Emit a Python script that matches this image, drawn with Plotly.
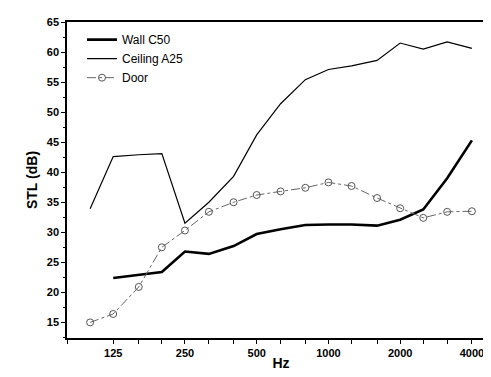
import plotly.graph_objects as go

freqs = [100, 125, 160, 200, 250, 315, 400, 500, 630, 800, 1000, 1250, 1600, 2000, 2500, 3150, 4000]
wall_freqs = freqs[1:]
wall = [22.4, 22.9, 23.4, 26.8, 26.4, 27.7, 29.7, 30.5, 31.2, 31.3, 31.3, 31.1, 32.1, 33.8, 39.0, 45.3]
ceiling = [33.9, 42.6, 42.9, 43.1, 31.5, 35.0, 39.3, 46.2, 51.4, 55.4, 57.1, 57.7, 58.6, 61.5, 60.5, 61.7, 60.6]
door = [15.0, 16.4, 20.9, 27.5, 30.3, 33.4, 35.0, 36.2, 36.8, 37.4, 38.3, 37.7, 35.7, 34.0, 32.4, 33.4, 33.5]
xtick_vals = [125, 250, 500, 1000, 2000, 4000]
xtick_text = ["125", "250", "500", "1000", "2000", "4000"]

FONT = "Liberation Sans, Arial, sans-serif"

fig = go.Figure()
fig.add_trace(go.Scatter(x=wall_freqs, y=wall, mode="lines", name="Wall C50",
                         line=dict(color="black", width=2.6)))
fig.add_trace(go.Scatter(x=freqs, y=ceiling, mode="lines", name="Ceiling A25",
                         line=dict(color="black", width=1.2)))
fig.add_trace(go.Scatter(x=freqs, y=door, mode="lines+markers", name="Door",
                         line=dict(color="#666666", width=1, dash="dashdot"),
                         marker=dict(symbol="circle-open", size=7, color="#555555",
                                     line=dict(width=1, color="#555555"))))

fig.update_layout(
    width=491, height=377,
    margin=dict(l=59, r=2, t=14, b=47),
    paper_bgcolor="white", plot_bgcolor="white",
    font=dict(family=FONT, color="black"),
    showlegend=True,
    legend=dict(x=0.035, y=0.99, xanchor="left", yanchor="top",
                bgcolor="rgba(0,0,0,0)", font=dict(size=12, family=FONT),
                tracegroupgap=0, itemwidth=30),
    xaxis=dict(type="log", range=[1.903, 3.699],
               tickvals=xtick_vals, ticktext=xtick_text,
               ticks="outside", ticklen=4, tickwidth=1.2, tickcolor="black",
               showline=True, linecolor="black", linewidth=1.5, mirror=True,
               showgrid=False, zeroline=False,
               tickfont=dict(size=11, family=FONT, weight="bold"),
               minor=dict(tickvals=[80, 160, 200, 315, 400, 630, 800, 1250, 1600, 2500, 3150],
                          ticks="outside", ticklen=4, tickcolor="black", showgrid=False),
               title=dict(text="Hz", font=dict(size=14, family=FONT, weight="bold"), standoff=0)),
    yaxis=dict(range=[12.4, 65], tickvals=[15, 20, 25, 30, 35, 40, 45, 50, 55, 60, 65],
               ticks="outside", ticklen=4, tickwidth=1.2, tickcolor="black",
               showline=True, linecolor="black", linewidth=1.5, mirror=True,
               showgrid=False, zeroline=False,
               tickfont=dict(size=11, family=FONT, weight="bold"),
               minor=dict(dtick=2.5, ticks="outside", ticklen=2, tickcolor="black", showgrid=False),
               title=dict(text="STL (dB)", font=dict(size=14, family=FONT, weight="bold"), standoff=6)),
)

fig.write_html("out.html")
